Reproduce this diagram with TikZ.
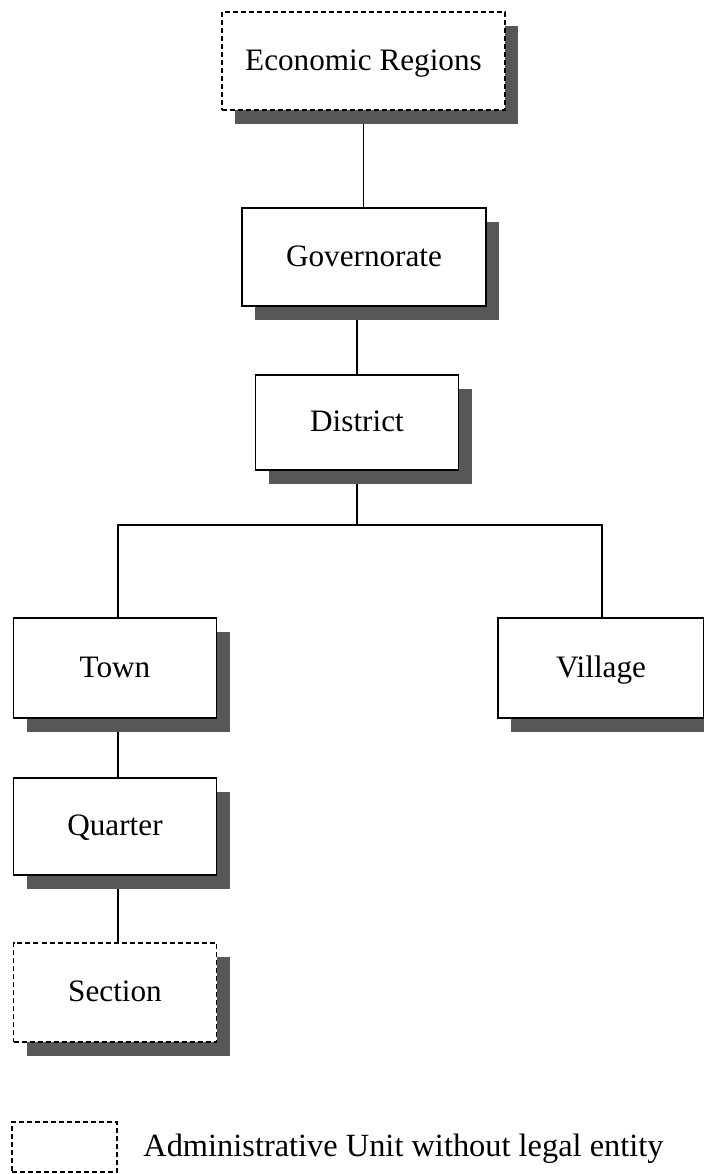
\documentclass[tikz,border=0pt]{standalone}
\usepackage{fontspec}
\setmainfont{Liberation Serif}
\usetikzlibrary{shadows,backgrounds}

\tikzset{
  unitbox/.style={draw, fill=white, line width=0.6pt, inner sep=0pt,
    font=\fontsize{15.6}{18}\selectfont, text height=0.9em, text depth=0em,
    drop shadow={shadow xshift=6.5pt, shadow yshift=-7pt, fill=black!66, opacity=1}},
  nolegal/.style={dash pattern=on 2.5pt off 1.5pt},
  link/.style={line width=0.6pt}
}

\begin{document}
\begin{tikzpicture}[x=0.5pt,y=-0.5pt]
    \useasboundingbox (0,0) rectangle (704,1174);

    % Verwaltungseinheiten
    \node[unitbox, nolegal, minimum width=141.5pt, minimum height=49pt] (econ) at (363.5,61) {Economic Regions};
    \node[unitbox, minimum width=122pt, minimum height=49pt] (gov) at (364,257) {Governorate};
    \node[unitbox, minimum width=101.5pt, minimum height=47.5pt] (dist) at (357,422.5) {District};
    \node[unitbox, minimum width=101.5pt, minimum height=50pt] (town) at (115,668) {Town};
    \node[unitbox, minimum width=103pt, minimum height=50pt] (village) at (601,668) {Village};
    \node[unitbox, minimum width=101.5pt, minimum height=48.5pt] (quarter) at (115,826.5) {Quarter};
    \node[unitbox, nolegal, minimum width=101.5pt, minimum height=49.5pt] (section) at (115,992.5) {Section};

    % Verbindungen
    \coordinate (bus) at (0,525);
    \begin{pgfonlayer}{background}
      \draw[link] (econ.south) -- (econ.south |- gov.north);
      \draw[link] (dist.north) -- (dist.north |- gov.south);
      \draw[link] (dist.south) -- (dist.south |- bus);
      \draw[link] (town.north -| 118,0) -- (118,525) -- (602,525) -- (village.north -| 602,0);
      \draw[link] (town.south -| 118,0) -- (quarter.north -| 118,0);
      \draw[link] (quarter.south -| 118,0) -- (section.north -| 118,0);
    \end{pgfonlayer}

    % Legende
    \node[draw, nolegal, line width=0.6pt, minimum width=52.5pt, minimum height=25pt] (legbox) at (64.5,1147) {};
    \node[anchor=west, inner sep=0pt, font=\fontsize{16.2}{19}\selectfont] (legtext) at (143,1149) {Administrative Unit without legal entity};
\end{tikzpicture}
\end{document}
